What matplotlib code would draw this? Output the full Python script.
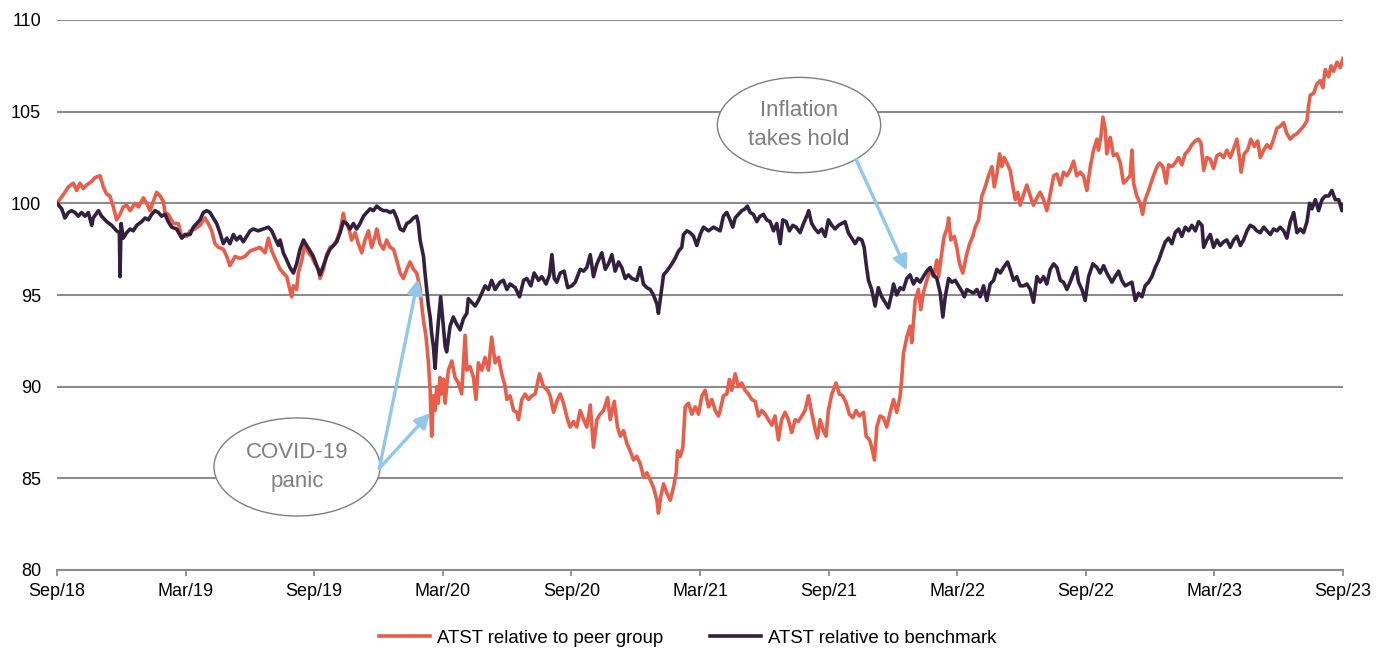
import numpy as np
import matplotlib
matplotlib.use("Agg")
import matplotlib.pyplot as plt
from matplotlib.patches import Ellipse

plt.rcParams['font.family'] = ['Liberation Sans', 'DejaVu Sans']

# x = months since Sep 2018
tick_pos = [0, 6, 12, 18, 24, 30, 36, 42, 48, 54, 60]
tick_labels = ['Sep/18', 'Mar/19', 'Sep/19', 'Mar/20', 'Sep/20', 'Mar/21',
               'Sep/21', 'Mar/22', 'Sep/22', 'Mar/23', 'Sep/23']

# ATST relative to peer group (month, index)
peer = [
    (0.0, 100.0), (0.37, 100.6), (0.53, 100.9), (0.76, 101.1), (0.92, 100.7), (1.07, 101.1), (1.23, 100.8),
    (1.38, 101.0), (1.62, 101.2), (1.77, 101.4), (2.01, 101.5), (2.16, 100.9), (2.32, 100.5), (2.47, 100.4),
    (2.63, 99.8), (2.78, 99.1), (2.94, 99.4), (3.09, 99.8), (3.25, 99.9), (3.41, 99.6), (3.64, 100.0),
    (3.80, 99.8), (4.03, 100.3), (4.18, 100.0), (4.34, 99.6), (4.49, 100.1), (4.65, 100.6), (4.81, 100.4),
    (4.96, 100.1), (5.04, 99.5), (5.19, 99.4), (5.43, 98.9), (5.66, 98.9), (5.82, 98.2), (6.05, 98.2),
    (6.21, 98.5), (6.44, 98.6), (6.67, 98.8), (6.91, 99.2), (7.06, 98.9), (7.22, 98.5), (7.37, 97.8),
    (7.53, 97.6), (7.76, 97.5), (7.92, 97.1), (8.07, 96.6), (8.31, 97.1), (8.54, 97.0), (8.77, 97.1),
    (9.01, 97.4), (9.24, 97.5), (9.47, 97.6), (9.71, 97.3), (9.86, 98.1), (10.02, 97.4), (10.17, 97.0),
    (10.33, 96.6), (10.41, 96.4), (10.56, 96.2), (10.72, 96.0), (10.80, 95.6), (10.95, 94.9), (11.03, 95.5),
    (11.18, 95.3), (11.26, 96.2), (11.42, 96.9), (11.57, 97.8), (11.73, 97.3), (11.88, 97.1), (12.04, 96.7),
    (12.20, 96.4), (12.27, 95.9), (12.43, 96.4), (12.58, 97.2), (12.74, 97.6), (12.90, 97.7), (13.05, 98.0),
    (13.21, 98.5), (13.36, 99.45), (13.44, 99.0), (13.60, 98.7), (13.75, 98.0), (13.91, 98.4), (14.06, 97.8),
    (14.22, 97.3), (14.37, 98.0), (14.53, 98.5), (14.68, 97.6), (14.84, 98.2), (14.92, 98.6), (15.07, 97.8),
    (15.23, 97.5), (15.38, 98.0), (15.54, 97.6), (15.70, 97.5), (15.85, 96.9), (16.01, 96.2), (16.16, 95.9),
    (16.32, 96.4), (16.47, 96.8), (16.63, 96.4), (16.78, 96.2), (16.86, 95.8), (16.94, 95.3), (17.02, 94.4),
    (17.10, 93.6), (17.22, 92.7), (17.33, 91.3), (17.41, 89.8), (17.48, 87.3), (17.56, 89.5), (17.64, 88.7),
    (17.72, 90.0), (17.79, 89.1), (17.87, 90.5), (17.95, 89.6), (18.03, 90.4), (18.11, 89.1), (18.18, 90.0),
    (18.26, 90.9), (18.42, 91.4), (18.57, 90.5), (18.73, 90.2), (18.88, 89.6), (19.04, 92.8), (19.12, 90.9),
    (19.27, 91.1), (19.43, 90.5), (19.55, 89.3), (19.66, 91.3), (19.82, 90.9), (19.97, 91.6), (20.13, 90.9),
    (20.28, 92.7), (20.44, 91.3), (20.60, 91.6), (20.75, 90.7), (20.91, 90.0), (20.99, 89.3), (21.14, 89.5),
    (21.30, 88.7), (21.45, 88.6), (21.53, 88.2), (21.69, 89.3), (21.84, 89.6), (22.0, 89.3), (22.15, 89.5),
    (22.31, 89.6), (22.51, 90.7), (22.70, 90.0), (22.89, 89.8), (23.01, 89.5), (23.17, 88.6), (23.32, 89.2),
    (23.48, 89.6), (23.63, 89.1), (23.82, 88.2), (23.94, 87.8), (24.10, 88.1), (24.25, 87.8), (24.41, 88.7),
    (24.57, 88.2), (24.72, 87.8), (24.88, 89.0), (25.03, 86.7), (25.19, 88.2), (25.34, 88.5), (25.50, 88.7),
    (25.69, 89.4), (25.81, 88.2), (26.0, 89.2), (26.15, 87.8), (26.28, 87.3), (26.43, 87.6), (26.59, 86.9),
    (26.74, 86.5), (26.90, 86.0), (27.05, 86.2), (27.21, 85.8), (27.36, 85.1), (27.52, 85.3), (27.68, 84.9),
    (27.83, 84.5), (27.99, 83.8), (28.06, 83.1), (28.17, 84.0), (28.30, 84.7), (28.45, 84.2), (28.61, 83.8),
    (28.76, 84.5), (28.89, 85.3), (28.95, 86.5), (29.08, 86.2), (29.20, 86.7), (29.31, 88.9), (29.46, 89.1),
    (29.62, 88.5), (29.78, 88.9), (29.93, 88.5), (30.09, 89.5), (30.24, 89.8), (30.40, 88.9), (30.55, 89.3),
    (30.71, 88.7), (30.86, 88.4), (30.94, 88.7), (31.09, 89.5), (31.25, 89.6), (31.37, 90.4), (31.48, 89.8),
    (31.64, 90.7), (31.79, 90.0), (31.95, 90.2), (32.10, 89.8), (32.26, 89.6), (32.41, 89.3), (32.57, 89.2),
    (32.73, 88.4), (32.88, 88.7), (33.04, 88.5), (33.19, 88.2), (33.35, 87.9), (33.50, 88.4), (33.66, 87.1),
    (33.81, 88.2), (33.97, 88.6), (34.12, 88.2), (34.28, 87.5), (34.44, 88.2), (34.59, 88.1), (34.75, 88.4),
    (34.90, 88.7), (35.06, 89.5), (35.21, 88.6), (35.37, 87.7), (35.48, 87.2), (35.60, 88.2), (35.76, 87.6),
    (35.88, 87.3), (35.99, 88.7), (36.15, 89.6), (36.35, 90.2), (36.50, 89.6), (36.66, 89.5), (36.82, 89.1),
    (36.97, 88.5), (37.13, 88.3), (37.28, 88.7), (37.44, 88.4), (37.63, 88.6), (37.75, 87.3), (37.91, 87.1),
    (38.01, 86.7), (38.14, 86.0), (38.25, 87.8), (38.40, 88.4), (38.56, 88.3), (38.71, 87.8), (38.87, 88.6),
    (39.03, 89.3), (39.18, 88.6), (39.34, 89.5), (39.41, 90.4), (39.49, 91.8), (39.65, 92.7), (39.80, 93.3),
    (39.88, 92.4), (40.04, 94.7), (40.19, 95.3), (40.30, 94.2), (40.42, 95.1), (40.58, 95.8), (40.74, 96.4),
    (40.89, 96.0), (41.05, 96.9), (41.13, 96.0), (41.28, 97.3), (41.39, 98.2), (41.52, 98.6), (41.60, 99.2),
    (41.70, 98.0), (41.86, 98.2), (41.98, 97.6), (42.11, 96.7), (42.26, 96.2), (42.42, 97.1), (42.58, 97.8),
    (42.73, 98.2), (42.84, 98.7), (43.0, 99.1), (43.15, 100.4), (43.31, 100.9), (43.46, 101.5), (43.62, 102.0),
    (43.73, 100.9), (43.85, 101.6), (43.98, 102.7), (44.08, 102.0), (44.19, 102.5), (44.32, 102.2),
    (44.47, 101.8), (44.60, 100.9), (44.71, 100.2), (44.82, 100.6), (44.94, 99.9), (45.10, 100.5),
    (45.25, 101.0), (45.41, 100.4), (45.56, 99.9), (45.72, 100.3), (45.87, 100.6), (46.03, 100.2),
    (46.18, 99.6), (46.34, 100.5), (46.50, 101.5), (46.65, 101.6), (46.81, 101.0), (46.96, 101.7),
    (47.12, 101.5), (47.27, 101.8), (47.43, 102.3), (47.58, 101.5), (47.74, 101.7), (47.89, 101.5),
    (48.05, 100.7), (48.21, 102.0), (48.36, 102.9), (48.52, 103.5), (48.59, 102.9), (48.70, 103.6),
    (48.80, 104.7), (48.91, 104.0), (48.98, 102.7), (49.14, 103.6), (49.29, 102.6), (49.45, 102.7),
    (49.61, 102.2), (49.76, 101.1), (49.92, 101.3), (50.07, 101.5), (50.15, 102.9), (50.23, 101.1),
    (50.38, 100.4), (50.54, 100.0), (50.65, 99.4), (50.77, 100.2), (50.93, 100.7), (51.04, 101.1),
    (51.16, 101.5), (51.32, 102.0), (51.44, 102.2), (51.60, 102.0), (51.75, 101.1), (51.86, 102.1),
    (52.02, 102.0), (52.17, 102.2), (52.33, 102.5), (52.48, 102.1), (52.64, 102.7), (52.80, 102.9),
    (52.95, 103.2), (53.11, 103.4), (53.26, 103.5), (53.37, 103.3), (53.50, 101.8), (53.65, 102.5),
    (53.81, 102.4), (53.96, 101.9), (54.12, 102.6), (54.27, 102.7), (54.43, 102.5), (54.58, 102.9),
    (54.74, 102.5), (54.90, 103.0), (55.05, 103.5), (55.18, 102.4), (55.25, 101.7), (55.39, 102.7),
    (55.55, 102.9), (55.70, 103.5), (55.86, 103.1), (56.02, 103.4), (56.14, 102.5), (56.30, 102.9),
    (56.45, 103.2), (56.61, 103.0), (56.76, 103.5), (56.92, 104.1), (57.07, 104.2), (57.23, 104.4),
    (57.38, 103.8), (57.54, 103.5), (57.70, 103.7), (57.85, 103.8), (58.01, 104.0), (58.16, 104.2),
    (58.32, 104.5), (58.39, 105.3), (58.47, 105.9), (58.63, 106.0), (58.78, 106.5), (58.94, 106.7),
    (59.06, 106.3), (59.17, 107.3), (59.33, 106.9), (59.44, 107.5), (59.56, 107.2), (59.72, 107.7),
    (59.87, 107.4), (60.0, 107.9),
]

# ATST relative to benchmark (month, index)
bench = [
    (0.0, 100.0), (0.22, 99.7), (0.37, 99.2), (0.53, 99.5), (0.68, 99.6), (0.84, 99.5), (0.99, 99.3),
    (1.15, 99.5), (1.31, 99.3), (1.46, 99.5), (1.62, 98.8), (1.69, 99.2), (1.93, 99.6), (2.08, 99.3),
    (2.32, 99.0), (2.55, 98.8), (2.78, 98.5), (2.91, 98.4), (2.94, 96.0), (2.99, 98.9), (3.09, 98.1),
    (3.25, 98.4), (3.41, 98.6), (3.56, 98.5), (3.72, 98.8), (3.95, 99.0), (4.11, 99.2), (4.26, 99.1),
    (4.42, 99.4), (4.57, 99.6), (4.73, 99.5), (4.88, 99.3), (5.04, 99.4), (5.19, 99.0), (5.35, 98.7),
    (5.58, 98.6), (5.82, 98.1), (5.97, 98.3), (6.21, 98.3), (6.36, 98.7), (6.52, 98.9), (6.67, 99.1),
    (6.83, 99.5), (6.98, 99.6), (7.14, 99.5), (7.29, 99.2), (7.45, 98.9), (7.60, 98.4), (7.76, 97.8),
    (7.92, 98.1), (8.07, 97.8), (8.23, 98.3), (8.38, 98.0), (8.54, 98.2), (8.69, 97.9), (8.85, 98.2),
    (9.01, 98.5), (9.16, 98.6), (9.39, 98.5), (9.63, 98.6), (9.86, 98.7), (10.02, 98.5), (10.17, 98.1),
    (10.33, 97.7), (10.41, 98.0), (10.56, 97.3), (10.72, 96.9), (10.87, 96.5), (11.03, 96.2), (11.18, 96.7),
    (11.34, 97.5), (11.50, 98.0), (11.65, 97.7), (11.81, 97.4), (11.96, 97.1), (12.12, 96.6), (12.27, 96.1),
    (12.43, 96.6), (12.58, 97.1), (12.74, 97.5), (12.90, 97.7), (13.05, 97.9), (13.21, 98.4), (13.36, 99.0),
    (13.52, 98.9), (13.67, 98.6), (13.83, 98.9), (13.98, 98.6), (14.14, 98.9), (14.30, 99.3), (14.45, 99.5),
    (14.61, 99.7), (14.76, 99.6), (14.92, 99.85), (15.07, 99.7), (15.23, 99.6), (15.38, 99.6), (15.54, 99.5),
    (15.70, 99.6), (15.85, 99.2), (16.01, 98.6), (16.16, 98.5), (16.32, 98.9), (16.47, 99.0), (16.63, 99.2),
    (16.78, 99.3), (16.86, 98.9), (16.94, 98.0), (17.10, 97.1), (17.17, 96.2), (17.25, 95.3), (17.33, 94.4),
    (17.41, 93.8), (17.48, 92.9), (17.56, 92.2), (17.64, 91.0), (17.72, 92.5), (17.79, 93.5), (17.90, 94.9),
    (18.00, 93.6), (18.11, 92.2), (18.18, 91.9), (18.34, 93.3), (18.49, 93.8), (18.65, 93.4), (18.81, 93.1),
    (18.96, 93.7), (19.12, 94.0), (19.19, 94.8), (19.35, 94.6), (19.51, 94.4), (19.66, 94.7), (19.82, 95.1),
    (19.97, 95.5), (20.13, 95.3), (20.28, 95.8), (20.44, 95.3), (20.67, 95.7), (20.83, 95.8), (20.99, 95.3),
    (21.14, 95.6), (21.38, 95.4), (21.58, 94.9), (21.77, 95.8), (21.92, 95.9), (22.11, 95.5), (22.26, 96.2),
    (22.47, 95.8), (22.62, 96.0), (22.82, 95.6), (22.98, 96.1), (23.09, 97.2), (23.20, 95.9), (23.32, 95.7),
    (23.48, 96.2), (23.66, 96.3), (23.83, 95.4), (24.02, 95.5), (24.18, 95.7), (24.41, 96.4), (24.57, 96.3),
    (24.72, 96.5), (24.88, 97.2), (25.03, 96.0), (25.19, 96.7), (25.42, 97.3), (25.58, 96.4), (25.73, 96.7),
    (25.89, 97.2), (26.04, 96.3), (26.20, 96.8), (26.35, 96.5), (26.51, 95.9), (26.66, 96.1), (26.82, 95.9),
    (27.05, 95.8), (27.21, 96.5), (27.36, 95.6), (27.52, 95.4), (27.68, 95.3), (27.83, 95.0), (27.99, 94.5),
    (28.06, 94.0), (28.14, 94.7), (28.30, 96.1), (28.45, 96.3), (28.69, 96.7), (28.84, 97.0), (29.00, 97.4),
    (29.15, 97.6), (29.23, 98.3), (29.39, 98.5), (29.54, 98.4), (29.70, 98.2), (29.85, 97.7), (30.01, 98.3),
    (30.16, 98.7), (30.40, 98.5), (30.63, 98.7), (30.94, 98.5), (31.09, 99.3), (31.25, 99.5), (31.40, 99.1),
    (31.53, 98.7), (31.64, 99.2), (31.79, 99.4), (31.95, 99.6), (32.10, 99.7), (32.21, 99.85), (32.34, 99.5),
    (32.49, 99.4), (32.65, 99.0), (32.80, 99.3), (32.96, 99.4), (33.11, 99.1), (33.27, 99.0), (33.43, 98.5),
    (33.58, 98.9), (33.74, 97.8), (33.86, 99.1), (34.02, 99.0), (34.17, 98.5), (34.33, 98.8), (34.48, 98.7),
    (34.67, 98.4), (34.83, 98.9), (34.98, 99.3), (35.07, 99.6), (35.21, 98.9), (35.37, 98.6), (35.52, 98.4),
    (35.68, 98.6), (35.84, 98.2), (35.99, 99.1), (36.15, 98.8), (36.30, 98.6), (36.46, 98.8), (36.61, 98.9),
    (36.77, 99.0), (36.92, 98.4), (37.08, 98.1), (37.24, 97.8), (37.39, 98.1), (37.55, 98.0), (37.66, 97.6),
    (37.75, 96.7), (37.86, 95.8), (38.01, 95.3), (38.17, 94.4), (38.32, 95.4), (38.48, 94.9), (38.64, 94.6),
    (38.79, 94.3), (38.95, 95.1), (39.03, 95.6), (39.18, 95.0), (39.34, 95.4), (39.49, 95.3), (39.65, 95.9),
    (39.80, 96.1), (39.96, 95.6), (40.11, 95.9), (40.27, 95.7), (40.42, 96.0), (40.58, 96.3), (40.74, 96.5),
    (40.89, 96.1), (41.05, 95.9), (41.21, 95.1), (41.33, 93.8), (41.44, 94.9), (41.60, 95.9), (41.75, 95.7),
    (41.91, 95.8), (42.06, 95.5), (42.22, 95.2), (42.33, 94.9), (42.45, 95.3), (42.61, 95.2), (42.76, 95.1),
    (42.92, 95.3), (43.07, 94.9), (43.23, 95.5), (43.38, 94.7), (43.54, 95.6), (43.70, 95.8), (43.85, 96.4),
    (44.01, 96.2), (44.16, 96.5), (44.35, 96.8), (44.47, 96.4), (44.63, 95.8), (44.78, 96.0), (44.94, 95.5),
    (45.10, 95.5), (45.25, 95.6), (45.41, 95.3), (45.56, 94.6), (45.72, 96.0), (45.87, 95.7), (46.03, 96.0),
    (46.18, 95.6), (46.34, 96.4), (46.50, 96.7), (46.65, 96.5), (46.81, 95.8), (46.96, 95.7), (47.12, 95.3),
    (47.27, 95.7), (47.43, 96.2), (47.55, 96.5), (47.66, 95.7), (47.82, 95.3), (47.97, 94.7), (48.13, 96.0),
    (48.33, 96.7), (48.52, 96.5), (48.67, 96.2), (48.83, 96.6), (48.98, 96.2), (49.22, 95.7), (49.37, 96.0),
    (49.53, 96.3), (49.68, 95.8), (49.84, 95.5), (49.99, 95.6), (50.15, 95.7), (50.31, 94.7), (50.46, 95.1),
    (50.62, 94.9), (50.77, 95.5), (50.93, 95.7), (51.08, 96.0), (51.24, 96.5), (51.40, 96.9), (51.55, 97.4),
    (51.71, 97.9), (51.86, 98.1), (52.02, 97.8), (52.17, 98.4), (52.33, 98.6), (52.48, 98.2), (52.64, 98.7),
    (52.80, 98.5), (52.95, 98.8), (53.11, 98.5), (53.26, 99.0), (53.42, 98.8), (53.50, 97.6), (53.65, 98.0),
    (53.81, 98.3), (53.96, 97.6), (54.12, 98.0), (54.27, 97.7), (54.43, 97.9), (54.58, 98.0), (54.74, 97.6),
    (54.90, 98.0), (55.05, 98.2), (55.21, 97.7), (55.36, 98.0), (55.52, 98.5), (55.67, 98.8), (55.83, 98.7),
    (55.98, 98.5), (56.14, 98.4), (56.30, 98.7), (56.45, 98.5), (56.61, 98.3), (56.76, 98.6), (56.92, 98.5),
    (57.07, 98.7), (57.23, 98.5), (57.38, 98.1), (57.54, 99.0), (57.70, 99.5), (57.85, 98.4), (58.01, 98.6),
    (58.16, 98.4), (58.32, 99.0), (58.44, 100.0), (58.55, 99.7), (58.71, 100.2), (58.86, 99.6), (59.02, 100.2),
    (59.17, 100.4), (59.33, 100.4), (59.48, 100.7), (59.64, 100.2), (59.80, 100.2), (59.95, 99.6), (60.0, 99.9),
]

RED = '#E85E4A'
DARK = '#33203F'
GRID = '#8C8C8C'
BLUE = '#8FC8EA'
GREY_TXT = '#7F7F7F'

fig = plt.figure(figsize=(13.76, 6.48), dpi=100)
ax = fig.add_axes([57 / 1376, 1 - 570 / 648, 1286 / 1376, 550 / 648])

px, pv = np.array(peer).T
bx, bv = np.array(bench).T
l1, = ax.plot(px, pv, color=RED, lw=2.6, label='ATST relative to peer group', zorder=3)
l2, = ax.plot(bx, bv, color=DARK, lw=2.6, label='ATST relative to benchmark', zorder=3)

ax.set_xlim(0, 60)
ax.set_ylim(80, 110)
ax.set_yticks(range(80, 111, 5))
ax.set_xticks(tick_pos)
ax.set_xticklabels(tick_labels)
ax.yaxis.grid(True, color=GRID, lw=1.5)
ax.set_axisbelow(True)
for s in ['left', 'right', 'top']:
    ax.spines[s].set_visible(False)
ax.spines['bottom'].set_color(GRID)
ax.spines['bottom'].set_linewidth(1.5)
ax.tick_params(axis='y', length=0, pad=11.5, labelsize=13)
ax.tick_params(axis='x', length=4, width=1.3, color=GRID, pad=5, labelsize=13)

# annotations
for c, w, h, txt in [((11.2, 85.62), 7.75, 5.35, 'COVID-19\npanic'),
                     ((34.62, 104.27), 7.62, 5.2, 'Inflation\ntakes hold')]:
    ax.add_patch(Ellipse(c, w, h, facecolor='white', edgecolor=GREY_TXT, lw=1.0, zorder=4))
    ax.text(c[0], c[1], txt, ha='center', va='center', fontsize=16, color=GREY_TXT,
            linespacing=1.45, zorder=5)

arrow_kw = dict(arrowstyle='-|>', color=BLUE, lw=2.4, mutation_scale=22, shrinkA=0, shrinkB=0)
ax.annotate('', xy=(16.85, 95.87), xytext=(15.04, 85.55), arrowprops=arrow_kw, zorder=5)
ax.annotate('', xy=(17.41, 88.56), xytext=(15.04, 85.55), arrowprops=arrow_kw, zorder=5)
ax.annotate('', xy=(39.65, 96.33), xytext=(37.28, 102.40), arrowprops=arrow_kw, zorder=5)

fig.legend(handles=[l1, l2], loc='center', bbox_to_anchor=(0.5, 0.0154), ncol=2, frameon=False,
           fontsize=13.4, handlelength=2.75, handletextpad=0.38, columnspacing=2.5, borderpad=0)

fig.savefig('out.png', dpi=100)
